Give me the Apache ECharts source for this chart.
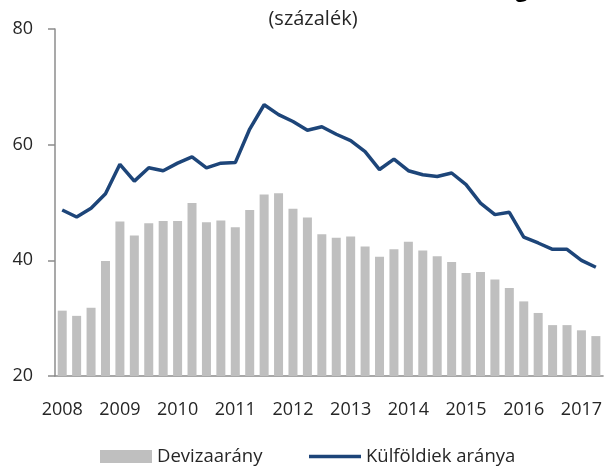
<!DOCTYPE html>
<html>
<head>
<meta charset="utf-8">
<script src="https://cdn.jsdelivr.net/npm/echarts@6/dist/echarts.min.js"></script>
<style>
html, body { margin: 0; padding: 0; background: #fff; }
#chart { width: 605px; height: 471px; }
</style>
</head>
<body>
<div id="chart"></div>
<script>
// negyedéves adatok, 2008 I. - 2017 II.
var quarters = [
    '2008 I.', '2008 II.', '2008 III.', '2008 IV.',
    '2009 I.', '2009 II.', '2009 III.', '2009 IV.',
    '2010 I.', '2010 II.', '2010 III.', '2010 IV.',
    '2011 I.', '2011 II.', '2011 III.', '2011 IV.',
    '2012 I.', '2012 II.', '2012 III.', '2012 IV.',
    '2013 I.', '2013 II.', '2013 III.', '2013 IV.',
    '2014 I.', '2014 II.', '2014 III.', '2014 IV.',
    '2015 I.', '2015 II.', '2015 III.', '2015 IV.',
    '2016 I.', '2016 II.', '2016 III.', '2016 IV.',
    '2017 I.', '2017 II.'
];
//devizaarány (oszlop)
var devizaArany = [
    31.3, 30.4, 31.8, 39.9, 46.7, 44.3, 46.4, 46.8,
    46.8, 49.9, 46.6, 46.9, 45.7, 48.7, 51.4, 51.6,
    48.9, 47.4, 44.5, 43.9, 44.1, 42.4, 40.6, 41.9,
    43.2, 41.7, 40.7, 39.7, 37.8, 38.0, 36.7, 35.2,
    32.9, 30.9, 28.8, 28.8, 27.9, 26.9
];
//külföldiek aránya (vonal)
var kulfoldiekArany = [
    48.7, 47.5, 49.0, 51.5, 56.6, 53.7, 56.0, 55.5,
    56.8, 57.9, 56.0, 56.8, 56.9, 62.7, 66.9, 65.2,
    64.0, 62.5, 63.1, 61.8, 60.7, 58.8, 55.7, 57.5,
    55.5, 54.8, 54.5, 55.1, 53.1, 49.9, 47.9, 48.3,
    44.0, 43.0, 41.9, 41.9, 40.0, 38.8
];
var yTicks = [20, 40, 60, 80];

var font = '"Open Sans", "Noto Sans", sans-serif';
var axisGray = '#8c8c8c';
var textColor = '#262626';
var lineColor = '#1d4579';

var myChart = echarts.init(document.getElementById('chart'));
var option = {
    animation: false,
    title: [{
        //a cím csak alul lóg be a képbe
        text: 'A devizaadósság',
        right: 72,
        top: -25,
        textStyle: { fontFamily: font, fontSize: 22, fontWeight: 'bold', color: '#000' }
    }, {
        text: '(százalék)',
        left: 313,
        textAlign: 'center',
        top: 9,
        padding: 0,
        textStyle: { fontFamily: font, fontSize: 20, fontWeight: 'normal', color: textColor }
    }],
    grid: {
        left: 55,
        right: 0,
        top: 29,
        bottom: 95
    },
    //két külön jelmagyarázat, hogy a vonal ikonja vékony legyen
    legend: [{
        left: 100,
        top: 447,
        padding: 0,
        itemWidth: 52,
        itemHeight: 13,
        textStyle: { fontFamily: font, fontSize: 18.5, color: textColor },
        data: [{ name: 'Devizaarány', icon: 'rect' }]
    }, {
        left: 309,
        top: 447,
        padding: 0,
        itemWidth: 52,
        itemHeight: 3.5,
        textStyle: { fontFamily: font, fontSize: 18.5, color: textColor },
        data: [{ name: 'Külföldiek aránya', icon: 'rect', itemStyle: { color: lineColor } }]
    }],
    xAxis: {
        type: 'category',
        data: quarters,
        axisLine: { lineStyle: { color: axisGray, width: 1.5 } },
        axisTick: { show: false },
        axisLabel: {
            interval: function(index) { return index % 4 === 0; },
            formatter: function(v) { return v.split(' ')[0]; },
            fontFamily: font,
            fontSize: 18,
            color: textColor,
            margin: 25
        }
    },
    yAxis: {
        type: 'value',
        min: yTicks[0],
        max: yTicks[yTicks.length - 1],
        interval: 20,
        splitLine: { show: false },
        axisLine: { show: true, lineStyle: { color: axisGray, width: 1.5 } },
        axisTick: { show: true, length: 7, lineStyle: { color: axisGray, width: 1.5 } },
        axisLabel: { fontFamily: font, fontSize: 18, color: textColor, margin: 22 }
    },
    series: [{
        name: 'Devizaarány',
        type: 'bar',
        data: devizaArany,
        barWidth: 9,
        itemStyle: { color: '#bfbfbf' }
    }, {
        name: 'Külföldiek aránya',
        type: 'line',
        data: kulfoldiekArany,
        symbol: 'none',
        lineStyle: { color: lineColor, width: 3.5 },
        itemStyle: { color: lineColor }
    }]
};
myChart.setOption(option);
</script>
</body>
</html>
